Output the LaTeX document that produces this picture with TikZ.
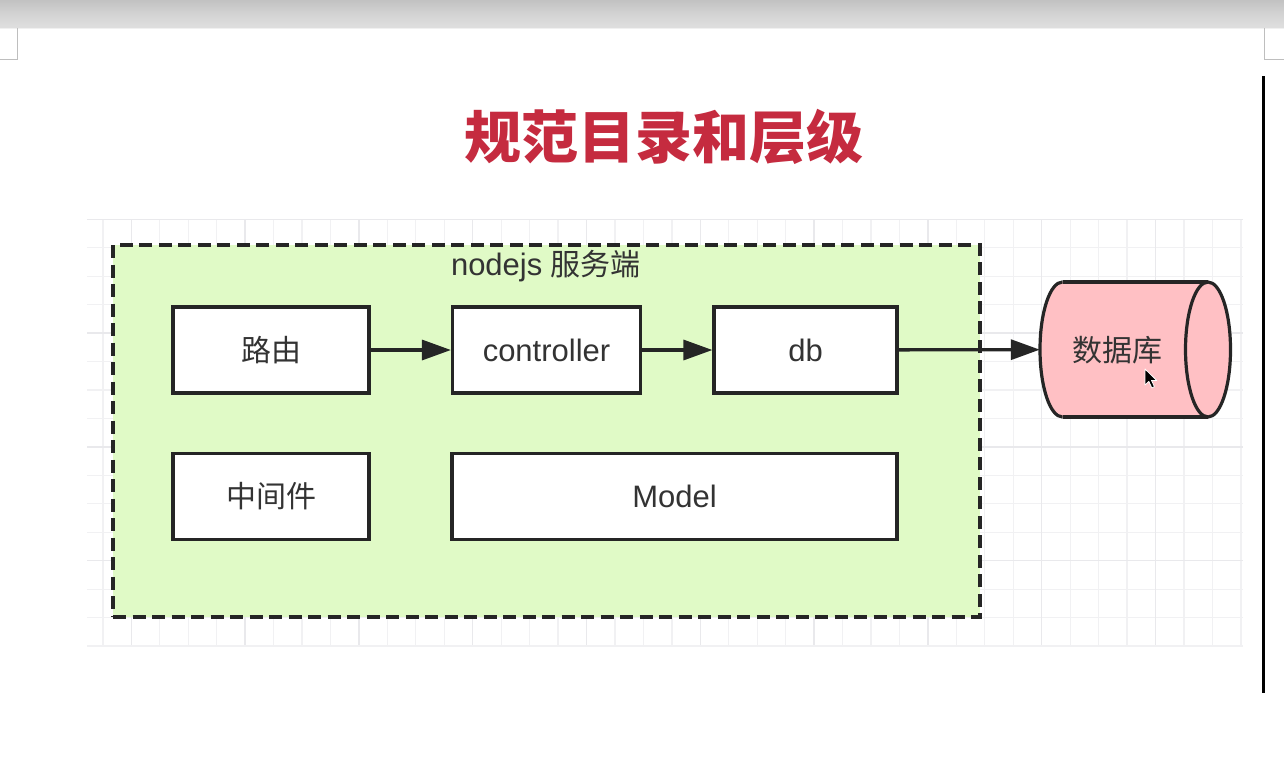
\documentclass[tikz,border=0pt]{standalone}
\usepackage{fontspec}
\setmainfont{Liberation Sans}
\newfontfamily\cjk{Noto Sans CJK SC}
\usetikzlibrary{arrows.meta}
\definecolor{titlered}{HTML}{C52B3F}
\definecolor{txt}{HTML}{333333}
\definecolor{edge}{HTML}{252525}
\definecolor{greenfill}{RGB}{224,250,198}
\definecolor{pinkfill}{RGB}{255,192,196}
\definecolor{gridminor}{RGB}{241,241,243}
\definecolor{gridmajor}{RGB}{233,233,236}
\definecolor{barTop}{RGB}{194,194,194}
\definecolor{barBot}{RGB}{223,223,223}
\definecolor{markgray}{RGB}{190,190,190}
\tikzset{
  boxnode/.style={draw=edge, line width=3.2pt, fill=white, inner sep=0pt,
    text=txt, minimum height=86pt},
  latin/.style={font=\fontsize{31}{36}\selectfont},
  han/.style={font=\cjk\fontsize{30}{36}\selectfont},
  conn/.style={draw=edge, line width=3.3pt, -{Triangle[length=29pt,width=20pt]}},
  cylline/.style={draw=edge, line width=3.2pt},
  minorline/.style={draw=gridminor, line width=1.3pt},
  majorline/.style={draw=gridmajor, line width=1.5pt},
}
\begin{document}
\begin{tikzpicture}[x=1pt,y=-1pt]
\useasboundingbox (0,0) rectangle (1284,766);
\fill[white] (0,0) rectangle (1284,766);
% window chrome
\shade[top color=barTop, bottom color=barBot, middle color=barBot!60!barTop] (0,0) rectangle (1284,28);
\draw[line width=1pt, draw=black!6] (0,28.5) -- (1284,28.5);
\draw[markgray, line width=1.2pt] (17.5,28) -- (17.5,59.5) -- (0,59.5);
\draw[markgray, line width=1.2pt] (1264.5,28) -- (1264.5,59.5) -- (1284,59.5);
\draw[black, line width=2.5pt] (1263.7,76) -- (1263.7,693);
% title
\node[text=titlered, font=\cjk\bfseries\fontsize{57}{64}\selectfont] (title) at (664,137) {规范目录和层级};
% grid
\foreach \k in {-33,...,7} {
  \pgfmathsetmacro\xx{1041.7+28.45*\k}
  \draw[minorline] (\xx,219.3) -- (\xx,645);
}
\foreach \k in {0,...,15} {
  \pgfmathsetmacro\yy{219.3+28.45*\k}
  \draw[minorline] (87,\yy) -- (1243,\yy);
}
\foreach \k in {-32,-28,...,4} {
  \pgfmathsetmacro\xx{1041.7+28.45*\k}
  \draw[majorline] (\xx,219.3) -- (\xx,645);
}
\foreach \k in {0,4,...,12} {
  \pgfmathsetmacro\yy{219.3+28.45*\k}
  \draw[majorline] (87,\yy) -- (1243,\yy);
}
% container
\node[draw=edge, fill=greenfill, line width=3.5pt, dash pattern=on 13pt off 6.5pt,
  minimum width=867pt, minimum height=372pt, inner sep=0pt] (server) at (546.5,431) {};
\node[text=txt, inner sep=0pt] (serverlabel) at (546,266)
  {\fontsize{31}{36}\selectfont nodejs {\cjk\fontsize{30}{36}\selectfont 服务端}};
% boxes
\node[boxnode, han, minimum width=196pt] (route) at (271,350) {路由};
\node[boxnode, latin, minimum width=188pt] (ctrl) at (546.5,350) {controller};
\node[boxnode, latin, minimum width=183pt] (dbn) at (805.5,350) {db};
\node[boxnode, han, minimum width=196pt] (mw) at (271,496.5) {中间件};
\node[boxnode, latin, minimum width=445pt] (model) at (674.5,496.5) {Model};
% database cylinder
\node[minimum width=190.7pt, minimum height=135pt, inner sep=0pt] (store) at (1135.35,349.5) {};
\fill[pinkfill] (1062.5,282) rectangle (1208,417);
\fill[pinkfill] (1062.5,349.5) ellipse [x radius=22.5pt, y radius=67.5pt];
\fill[pinkfill] (1208,349.5) ellipse [x radius=22.5pt, y radius=67.5pt];
\begin{scope}
  \clip (1030,270) rectangle (1062.5,430);
  \draw[cylline] (1062.5,349.5) ellipse [x radius=22.5pt, y radius=67.5pt];
\end{scope}
\draw[cylline] (1062.5,282) -- (1208,282);
\draw[cylline] (1062.5,417) -- (1208,417);
\draw[cylline] (1208,349.5) ellipse [x radius=22.5pt, y radius=67.5pt];
\node[han, text=txt, inner sep=0pt] (storelabel) at (1117,350) {数据库};
% connectors
\draw[conn] (route) -- (ctrl);
\draw[conn] (ctrl) -- (dbn);
\draw[conn] (dbn) -- (store);
% mouse cursor
\draw[fill=black, draw=white, line width=0.8pt, line join=round]
  (1145,369) -- ++(0,16) -- ++(3.8,-3.6) -- ++(3,6.5) -- ++(2.6,-1.2) -- ++(-2.9,-6.3) -- ++(5.2,0) -- cycle;
\end{tikzpicture}
\end{document}
